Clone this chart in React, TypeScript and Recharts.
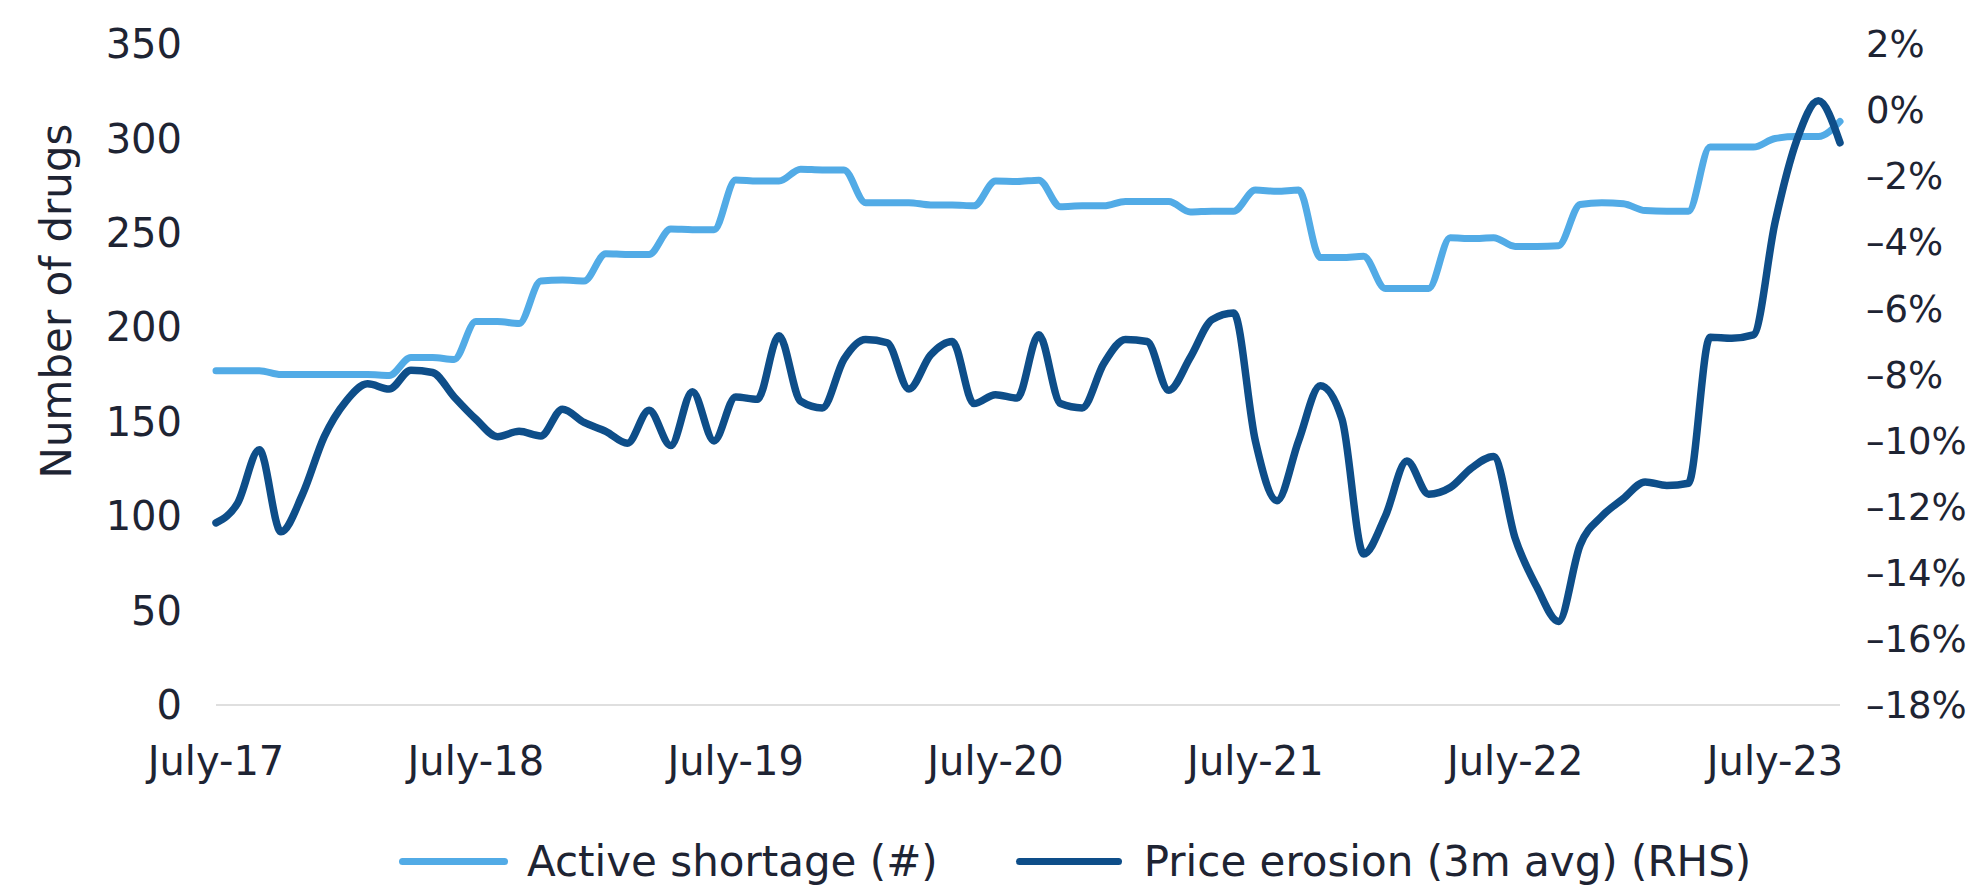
import { LineChart, Line, XAxis, YAxis, Legend } from 'recharts';

const FONT = '"DejaVu Sans", sans-serif';
const TEXT = '#1e2433';
const LIGHT = '#52abe6';
const DARK = '#0e4e89';

const MONTH_NAMES = [
  'January', 'February', 'March', 'April', 'May', 'June',
  'July', 'August', 'September', 'October', 'November', 'December',
];

// monthly, July 2017 .. October 2023
const MONTHS = Array.from({ length: 76 }, (_, i) => {
  const m = (6 + i) % 12;
  const yy = 17 + Math.floor((6 + i) / 12);
  return `${MONTH_NAMES[m]}-${yy}`;
});

const TICK_LABELS = ['July-17', 'July-18', 'July-19', 'July-20', 'July-21', 'July-22', 'July-23'];

// Active shortage (#), left axis
const SHORTAGE = [
  177, 177, 177, 175, 175, 175, 175, 175, 174.5, 184, 184, 183,
  203, 203, 202, 224.5, 225, 224.5, 239, 238.5, 238.5, 252, 251.7, 251.7,
  278, 277.4, 277.4, 283.7, 283.3, 283.3, 266, 266, 266, 264.8, 264.8, 264.3,
  277.4, 277.2, 277.9, 263.8, 264.3, 264.3, 266.6, 266.6, 266.6, 261, 261.5, 261.5,
  272.7, 272, 272.7, 236.9, 236.9, 237.6, 220.5, 220.5, 220.5, 247.4, 247, 247.4,
  242.8, 242.8, 243.2, 265, 266, 265.4, 261.8, 261.5, 261.5, 295.4, 295.4, 295.4,
  300, 301, 301, 309,
];

// Price erosion (3m avg) in %, right axis
const EROSION = [
  -12.49, -11.89, -10.28, -12.76, -11.62, -9.88, -8.81, -8.28, -8.44, -7.87, -7.94, -8.68,
  -9.35, -9.88, -9.72, -9.86, -9.05, -9.45, -9.72, -10.08, -9.08, -10.15, -8.52, -10.01,
  -8.68, -8.75, -6.83, -8.81, -9.01, -7.54, -6.94, -7.04, -8.44, -7.41, -7.0, -8.88,
  -8.61, -8.71, -6.8, -8.88, -9.01, -7.67, -6.94, -7.0, -8.48, -7.48, -6.34, -6.14,
  -10.01, -11.82, -10.0, -8.34, -9.35, -13.43, -12.29, -10.62, -11.62, -11.42, -10.82, -10.48,
  -12.96, -14.43, -15.47, -13.16, -12.29, -11.75, -11.25, -11.36, -11.29, -6.87, -6.9, -6.8,
  -3.4, -0.92, 0.28, -0.99,
];

const LEFT_TICKS = [0, 50, 100, 150, 200, 250, 300, 350];
const RIGHT_TICKS = [-18, -16, -14, -12, -10, -8, -6, -4, -2, 0, 2];

const data = MONTHS.map((month, i) => ({
  month,
  shortage: SHORTAGE[i],
  erosion: EROSION[i],
}));

const pct = (v: number) => `${v < 0 ? '\u2013' : ''}${Math.abs(v)}%`;

const YTitle = () => (
  <text
    x={56}
    y={301}
    transform="rotate(-90 56 301)"
    textAnchor="middle"
    dominantBaseline="central"
    fill={TEXT}
    fontSize={42}
    fontFamily={FONT}
  >
    Number of drugs
  </text>
);

const LegendContent = () => (
  <div
    style={{
      display: 'flex',
      alignItems: 'center',
      height: 80,
      paddingTop: 32,
      paddingLeft: 399,
      boxSizing: 'border-box',
      fontFamily: FONT,
      fontSize: 42,
      color: TEXT,
      whiteSpace: 'nowrap',
    }}
  >
    <span style={{ width: 109, height: 7, borderRadius: 4, background: LIGHT, marginRight: 19 }} />
    <span>Active shortage (#)</span>
    <span style={{ width: 106, height: 7, borderRadius: 4, background: DARK, marginLeft: 78, marginRight: 22 }} />
    <span>Price erosion (3m avg) (RHS)</span>
  </div>
);

export default function App() {
  const tick = { fill: TEXT, fontSize: 40, fontFamily: FONT };
  return (
    <div style={{ position: 'absolute', left: 0, top: 0, background: '#fff' }}>
      <LineChart
        width={1968}
        height={885}
        data={data}
        margin={{ top: 44, right: 0, bottom: 0, left: 0 }}
      >
        <XAxis
          dataKey="month"
          ticks={TICK_LABELS}
          interval={0}
          height={100}
          tickLine={false}
          tickSize={6}
          tickMargin={36}
          axisLine={{ stroke: '#d4d4d4', strokeWidth: 1.5 }}
          tick={tick}
        />
        <YAxis
          yAxisId="left"
          domain={[0, 350]}
          ticks={LEFT_TICKS}
          width={216}
          axisLine={false}
          tickLine={false}
          tickSize={6}
          tickMargin={28}
          tick={tick}
          label={<YTitle />}
        />
        <YAxis
          yAxisId="right"
          orientation="right"
          domain={[-18, 2]}
          ticks={RIGHT_TICKS}
          width={128}
          axisLine={false}
          tickLine={false}
          tickSize={6}
          tickMargin={20}
          tickFormatter={pct}
          tick={{ ...tick, fontSize: 37 }}
        />
        <Legend
          height={80}
          content={<LegendContent />}
          wrapperStyle={{ left: 0, top: 805, width: 1968, height: 80 }}
        />
        <Line
          yAxisId="left"
          type="monotone"
          dataKey="shortage"
          stroke={LIGHT}
          strokeWidth={7}
          strokeLinecap="round"
          dot={false}
          activeDot={false}
          isAnimationActive={false}
        />
        <Line
          yAxisId="right"
          type="monotone"
          dataKey="erosion"
          stroke={DARK}
          strokeWidth={7.5}
          strokeLinecap="round"
          dot={false}
          activeDot={false}
          isAnimationActive={false}
        />
      </LineChart>
    </div>
  );
}
